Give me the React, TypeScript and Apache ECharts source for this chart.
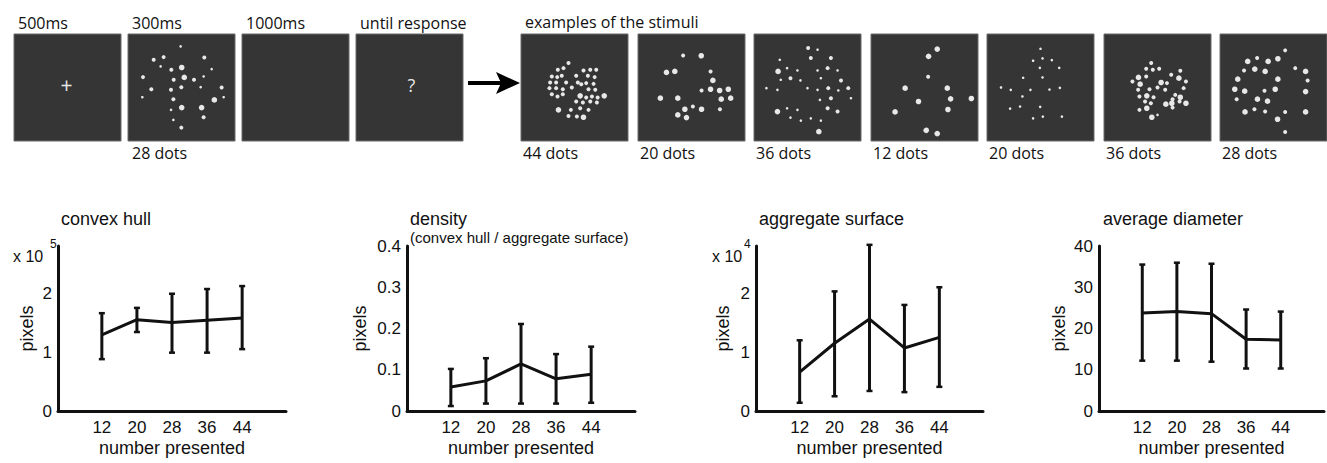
import React, { useEffect, useRef } from 'react';
import * as echarts from 'echarts';

// ---------- data: bottom panels ----------
const numbersPresented = [12, 20, 28, 36, 44];

const hullMean = [1.29, 1.55, 1.5, 1.54, 1.58];
const hullLow = [0.88, 1.34, 0.99, 0.99, 1.05];
const hullHigh = [1.66, 1.75, 1.99, 2.07, 2.12];

const densityMean = [0.058, 0.073, 0.114, 0.078, 0.089];
const densityLow = [0.012, 0.018, 0.018, 0.018, 0.02];
const densityHigh = [0.102, 0.128, 0.211, 0.138, 0.156];

const surfaceMean = [0.66, 1.15, 1.56, 1.07, 1.25];
const surfaceLow = [0.14, 0.25, 0.34, 0.32, 0.41];
const surfaceHigh = [1.2, 2.03, 2.82, 1.8, 2.1];

const diameterMean = [23.75, 24.1, 23.6, 17.4, 17.2];
const diameterLow = [12.2, 12.2, 11.95, 10.3, 10.3];
const diameterHigh = [35.5, 35.95, 35.7, 24.6, 24.1];

const panelTitles = ['convex hull', 'density', 'aggregate surface', 'average diameter'];
const trialLabels = ['500ms', '300ms', '1000ms', 'until response'];
const exampleLabels = ['44 dots', '20 dots', '36 dots', '12 dots', '20 dots', '36 dots', '28 dots'];

// ---------- data: stimulus dots [x%, y%, size class] ----------
const dots28a = [
  [49.2, 11.6, 1], [24.0, 24.1, 2], [33.3, 21.6, 2], [71.3, 21.9, 2], [30.5, 30.3, 1], [40.5, 33.4, 2],
  [50.2, 31.3, 3], [78.2, 32.8, 1], [14.0, 40.3, 2], [42.7, 42.8, 2], [52.6, 40.6, 3], [61.7, 42.8, 2],
  [70.7, 39.7, 1], [49.8, 49.7, 2], [40.2, 52.2, 2], [67.9, 49.7, 1], [21.8, 51.6, 2], [87.5, 50.0, 2],
  [13.4, 59.1, 1], [42.4, 60.9, 2], [80.7, 61.6, 3], [89.4, 59.1, 1], [50.2, 68.8, 3], [68.8, 68.8, 3],
  [40.2, 70.9, 1], [70.7, 77.8, 2], [42.4, 80.3, 1], [49.8, 87.5, 2],
];
const dots44 = [
  [44.4, 27.2, 2], [34.4, 33.4, 2], [39.7, 31.9, 2], [28.8, 39.7, 2], [33.8, 40.3, 2], [38.1, 39.1, 2],
  [42.2, 45.3, 2], [32.8, 45.3, 2], [27.2, 45.3, 2], [51.6, 39.1, 2], [58.4, 34.1, 2], [64.7, 33.4, 2],
  [70.3, 33.4, 2], [62.5, 39.1, 2], [68.8, 40.3, 2], [53.1, 45.3, 2], [56.3, 46.9, 2], [60.9, 45.9, 2],
  [67.8, 46.6, 2], [26.6, 50.6, 2], [32.8, 50.6, 2], [39.1, 51.6, 2], [47.5, 50.0, 2], [28.8, 56.3, 2],
  [34.1, 58.4, 2], [39.1, 56.3, 2], [63.1, 51.6, 2], [69.4, 52.2, 2], [55.3, 57.8, 3], [60.9, 59.4, 2],
  [66.3, 58.4, 2], [71.6, 59.4, 2], [77.8, 57.8, 3], [51.6, 63.1, 2], [57.8, 64.1, 2], [64.7, 63.1, 2],
  [70.9, 64.1, 2], [35.0, 70.9, 3], [46.6, 70.9, 2], [55.3, 69.4, 2], [63.1, 70.9, 2], [44.4, 76.6, 2],
  [52.2, 77.2, 2], [58.4, 77.8, 3],
];
const dots20a = [
  [42.2, 20.0, 2], [59.1, 20.3, 3], [26.6, 35.9, 3], [34.4, 35.0, 3], [67.8, 35.0, 2], [70.0, 43.4, 3],
  [59.4, 52.8, 2], [67.8, 51.6, 3], [76.3, 52.8, 3], [84.4, 51.6, 3], [20.9, 60.0, 3], [37.2, 60.0, 3],
  [77.8, 60.9, 3], [86.6, 60.0, 3], [43.8, 70.3, 3], [51.3, 67.8, 2], [59.4, 70.3, 3], [76.6, 70.3, 2],
  [37.2, 75.6, 3], [45.3, 78.1, 3],
];
const dots36a = [
  [50.6, 13.1, 2], [59.4, 14.7, 1], [53.1, 22.5, 2], [71.9, 22.5, 2], [24.1, 24.1, 1], [22.5, 35.0, 3],
  [30.9, 31.9, 1], [40.6, 34.1, 1], [59.4, 34.1, 1], [68.8, 31.9, 2], [78.1, 34.1, 1], [25.0, 42.8, 1],
  [34.1, 41.3, 2], [43.4, 43.4, 1], [81.3, 43.4, 2], [62.5, 41.3, 1], [11.6, 50.6, 1], [21.9, 52.2, 1],
  [50.0, 50.6, 1], [59.4, 52.2, 1], [69.4, 50.6, 2], [78.8, 52.8, 1], [88.1, 50.6, 2], [71.9, 60.0, 2],
  [61.6, 61.6, 1], [90.6, 60.0, 1], [21.9, 72.5, 3], [30.9, 69.4, 1], [40.6, 70.9, 1], [68.8, 69.4, 2],
  [78.1, 72.5, 2], [34.1, 78.1, 1], [43.8, 80.9, 1], [53.1, 78.8, 1], [62.5, 80.9, 1], [60.6, 91.3, 3],
];
const dots12 = [
  [61.9, 14.1, 3], [53.8, 20.9, 3], [53.4, 40.0, 2], [31.9, 50.6, 3], [71.3, 50.6, 3], [44.4, 63.1, 3],
  [74.4, 60.6, 3], [93.8, 60.3, 3], [71.9, 70.6, 3], [22.5, 72.8, 3], [51.6, 90.0, 3], [61.9, 93.1, 3],
];
const dots20b = [
  [50.0, 13.8, 1], [43.1, 25.0, 1], [51.9, 22.8, 1], [60.6, 24.4, 1], [49.4, 31.6, 1], [67.5, 31.6, 1],
  [33.8, 40.9, 1], [51.9, 40.6, 1], [13.1, 50.0, 1], [22.2, 52.2, 1], [40.6, 52.2, 1], [58.4, 51.9, 1],
  [68.1, 50.3, 1], [33.1, 58.4, 1], [21.6, 69.7, 1], [30.9, 67.8, 1], [49.7, 68.1, 1], [43.1, 78.8, 1],
  [52.2, 77.2, 1], [70.0, 77.2, 1],
];
const dots36b = [
  [44.1, 27.2, 2], [39.4, 32.5, 2], [45.6, 33.4, 2], [51.6, 32.5, 2], [32.2, 40.6, 3], [39.4, 39.7, 2],
  [26.6, 44.4, 2], [33.8, 46.9, 3], [53.4, 45.3, 3], [62.8, 38.1, 2], [71.3, 34.4, 2], [70.0, 41.3, 3],
  [76.6, 44.4, 2], [42.5, 51.6, 2], [50.0, 50.0, 2], [57.2, 52.2, 2], [31.9, 52.2, 2], [33.1, 58.4, 2],
  [40.0, 57.8, 3], [46.3, 59.1, 2], [66.6, 56.9, 2], [74.4, 50.6, 2], [64.1, 60.9, 2], [71.3, 59.1, 3],
  [38.4, 63.1, 2], [43.8, 64.7, 2], [57.8, 65.6, 3], [63.4, 64.7, 3], [70.6, 63.1, 2], [76.6, 64.7, 3],
  [33.1, 70.9, 2], [40.0, 69.4, 3], [64.1, 68.8, 2], [44.7, 77.8, 3], [50.0, 75.6, 1], [58.8, 45.9, 2],
];
const dots28b = [
  [60.9, 15.3, 2], [25.9, 25.6, 3], [34.7, 22.5, 2], [45.0, 25.6, 3], [54.1, 23.1, 3], [22.5, 34.1, 2],
  [32.5, 32.8, 3], [42.2, 35.0, 3], [70.3, 31.9, 2], [80.0, 35.0, 3], [16.6, 42.2, 3], [54.1, 42.2, 3],
  [81.9, 43.4, 2], [13.8, 51.6, 3], [23.1, 53.4, 3], [41.6, 53.1, 2], [51.6, 51.6, 3], [80.0, 53.8, 3],
  [15.6, 60.9, 2], [35.0, 60.9, 3], [44.4, 62.8, 3], [23.4, 72.8, 3], [32.2, 70.3, 2], [42.2, 72.5, 2],
  [60.9, 72.8, 2], [80.0, 72.8, 3], [53.8, 79.7, 3], [60.9, 91.6, 2],
];

// ---------- layout ----------
const INK = '#111';
const SANS = 'Liberation Sans, Arial, Helvetica, sans-serif';
const MYRIAD = 'Open Sans, Noto Sans, sans-serif';
const BOX = 107;
const BOX_TOP = 34;
const boxLefts = [14, 128, 242, 356, 521, 638, 754, 871, 987, 1104, 1220];
const boxDots: Record<number, number[][]> = {
  1: dots28a, 4: dots44, 5: dots20a, 6: dots36a, 7: dots12, 8: dots20b, 9: dots36b, 10: dots28b,
};
const dotPx = [0, 2.6, 4, 5.6];

const panels = [
  { left: 58, top: 246, width: 228, height: 165, max: 2.8, interval: 1, mean: hullMean, low: hullLow, high: hullHigh, gap: 22 },
  { left: 407, top: 246, width: 228, height: 165, max: 0.4, interval: 0.1, mean: densityMean, low: densityLow, high: densityHigh, gap: 38 },
  { left: 756, top: 246, width: 227, height: 165, max: 2.8, interval: 1, mean: surfaceMean, low: surfaceLow, high: surfaceHigh, gap: 24 },
  { left: 1099, top: 246, width: 228, height: 165, max: 40, interval: 10, mean: diameterMean, low: diameterLow, high: diameterHigh, gap: 31 },
];

function txt(text: string, x: number, y: number, fontSize: number, fontFamily: string, extra: any = {}) {
  return {
    type: 'text',
    x,
    y,
    silent: true,
    style: {
      text,
      fill: extra.fill || INK,
      fontSize,
      fontFamily,
      textAlign: extra.align || 'left',
      align: extra.align || 'left',
      textVerticalAlign: 'middle',
      verticalAlign: 'middle',
    },
  };
}

function buildOption() {
  const grid: any[] = [];
  const xAxis: any[] = [];
  const yAxis: any[] = [];
  const series: any[] = [];
  const graphic: any[] = [];

  // stimulus boxes
  boxLefts.forEach((left, i) => {
    grid.push({
      left, top: BOX_TOP, width: BOX, height: BOX, show: true,
      backgroundColor: '#353535', borderColor: '#6a6a6a', borderWidth: 1,
    });
    xAxis.push({ gridIndex: i, type: 'value', min: 0, max: 100, show: false });
    yAxis.push({ gridIndex: i, type: 'value', min: 0, max: 100, inverse: true, show: false });
    const d = boxDots[i];
    if (d) {
      series.push({
        type: 'scatter', xAxisIndex: i, yAxisIndex: i, silent: true,
        data: d,
        symbolSize: (v: number[]) => dotPx[v[2]],
        itemStyle: { color: '#e8e8e8', opacity: 1 },
      });
    }
  });

  // bottom panels
  panels.forEach((p, k) => {
    const gi = boxLefts.length + k;
    grid.push({ left: p.left, top: p.top, width: p.width, height: p.height });
    xAxis.push({
      gridIndex: gi, type: 'value', min: 2, max: 54, interval: 2,
      axisLine: { show: true, onZero: false, lineStyle: { color: INK, width: 3 } },
      axisTick: { show: false }, splitLine: { show: false },
      axisLabel: {
        color: INK, fontSize: 17, fontFamily: SANS, margin: 8,
        formatter: (v: number) => (numbersPresented.includes(v) ? String(v) : ''),
      },
      name: 'number presented', nameLocation: 'middle', nameGap: 28,
      nameTextStyle: { color: INK, fontSize: 18, fontFamily: SANS },
    });
    yAxis.push({
      gridIndex: gi, type: 'value', min: 0, max: p.max, interval: p.interval,
      axisLine: { show: true, onZero: false, lineStyle: { color: INK, width: 3 } },
      axisTick: { show: false }, splitLine: { show: false },
      axisLabel: { color: INK, fontSize: 17, fontFamily: SANS, margin: 6, showMaxLabel: k === 1 || k === 3 },
      name: 'pixels', nameLocation: 'middle', nameGap: p.gap,
      nameTextStyle: { color: INK, fontSize: 18, fontFamily: SANS },
    });
    series.push({
      type: 'line', xAxisIndex: gi, yAxisIndex: gi, silent: true,
      data: numbersPresented.map((x, i) => [x, p.mean[i]]),
      symbol: 'none', lineStyle: { color: INK, width: 3 }, z: 3,
    });
    series.push({
      type: 'custom', xAxisIndex: gi, yAxisIndex: gi, silent: true, z: 4,
      data: numbersPresented.map((x, i) => [x, p.low[i], p.high[i]]),
      renderItem: (_params: any, api: any) => {
        const lo = api.coord([api.value(0), api.value(1)]);
        const hi = api.coord([api.value(0), api.value(2)]);
        const cw = 3;
        const st = { stroke: INK, lineWidth: 3 };
        const cap = { stroke: INK, lineWidth: 2.5 };
        return {
          type: 'group',
          children: [
            { type: 'line', shape: { x1: lo[0], y1: lo[1], x2: hi[0], y2: hi[1] }, style: st },
            { type: 'line', shape: { x1: lo[0] - cw, y1: lo[1], x2: lo[0] + cw, y2: lo[1] }, style: cap },
            { type: 'line', shape: { x1: hi[0] - cw, y1: hi[1], x2: hi[0] + cw, y2: hi[1] }, style: cap },
          ],
        };
      },
    });
  });

  // top texts
  trialLabels.forEach((t, i) => graphic.push(txt(t, boxLefts[i] + 4, 22.5, 16, MYRIAD)));
  graphic.push(txt('28 dots', boxLefts[1] + 4, 152.5, 16, MYRIAD));
  graphic.push(txt('examples of the stimuli', boxLefts[4] + 4, 22, 16, MYRIAD));
  exampleLabels.forEach((t, i) => graphic.push(txt(t, boxLefts[4 + i] + 2, 153, 16, MYRIAD)));
  graphic.push(txt('+', boxLefts[0] + BOX / 2 - 1, 85, 21, MYRIAD, { align: 'center', fill: '#e6e6e6' }));
  graphic.push(txt('?', boxLefts[3] + BOX / 2 + 2, 85, 18, MYRIAD, { align: 'center', fill: '#e6e6e6' }));

  // arrow
  graphic.push({ type: 'line', silent: true, shape: { x1: 468, y1: 83, x2: 503, y2: 83 }, style: { stroke: '#000', lineWidth: 4 } });
  graphic.push({ type: 'polygon', silent: true, shape: { points: [[496, 72], [520, 83], [496, 94], [501, 83]] }, style: { fill: '#000' } });

  // panel titles
  const titleX = [61, 410, 759, 1103];
  panelTitles.forEach((t, i) => graphic.push(txt(t, titleX[i], 219, 18, SANS)));
  graphic.push(txt('(convex hull / aggregate surface)', 410, 237, 15, SANS));
  // scale factors
  graphic.push(txt('x 10', 13, 256, 16, SANS));
  graphic.push(txt('5', 50, 244, 12, SANS));
  graphic.push(txt('x 10', 712, 256, 16, SANS));
  graphic.push(txt('4', 744, 244, 12, SANS));

  return { animation: false, backgroundColor: '#ffffff', grid, xAxis, yAxis, series, graphic };
}

export default function App() {
  const ref = useRef<HTMLDivElement>(null);
  useEffect(() => {
    const chart = echarts.init(ref.current!, null, { renderer: 'svg' });
    chart.setOption(buildOption());
    return () => chart.dispose();
  }, []);
  return (
    <div
      ref={ref}
      style={{ position: 'fixed', left: 0, top: 0, width: 1327, height: 463, background: '#fff' }}
    />
  );
}
